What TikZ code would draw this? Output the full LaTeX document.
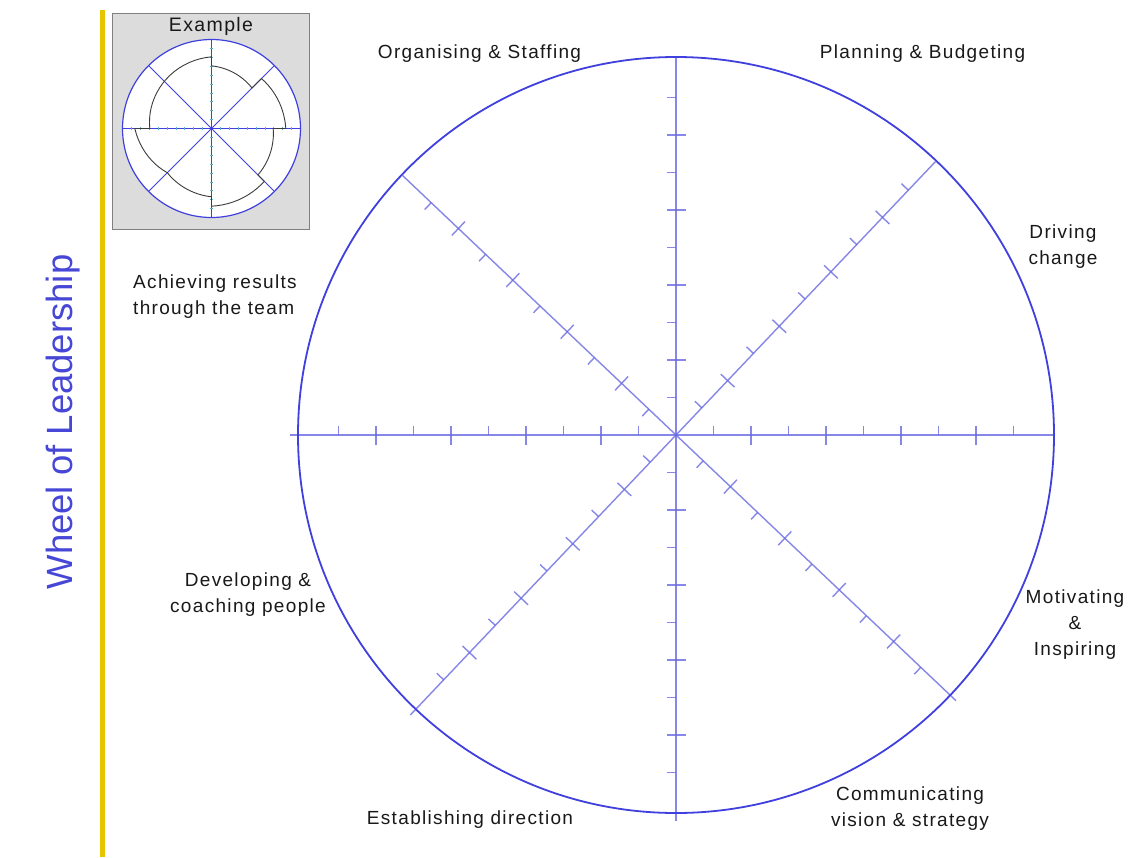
\documentclass[tikz,border=0pt]{standalone}
\usepackage{fontspec}
\setmainfont{Liberation Sans}
\newfontfamily\lblfont{Liberation Sans}[LetterSpace=7]
\definecolor{wheelblue}{RGB}{64,64,222}
\definecolor{spokeblue}{RGB}{105,105,226}
\definecolor{titleblue}{RGB}{70,70,215}
\definecolor{baryellow}{RGB}{230,196,0}
\definecolor{labelgrey}{RGB}{25,25,25}
\definecolor{insetfill}{RGB}{220,220,220}
\definecolor{insetborder}{RGB}{128,128,128}
\definecolor{insettick}{RGB}{90,175,210}
\definecolor{shapegrey}{RGB}{60,60,60}
\begin{document}
\begin{tikzpicture}[x=1pt,y=1pt,
  lbl/.style={text=labelgrey, font=\lblfont\fontsize{19}{26}\selectfont, align=center, anchor=base, inner sep=0pt},
  spoke/.style={draw=spokeblue, draw opacity=0.8, line width=1.4pt},
  rim/.style={draw=wheelblue, line width=1.8pt},
  minispoke/.style={draw=wheelblue, line width=0.8pt},
  minitick/.style={draw=insettick, line width=0.8pt}
]
\useasboundingbox (0,0) rectangle (1135,-857);
\fill[white] (0,0) rectangle (1135,-857);

% yellow bar
\draw[baryellow, line width=5pt] (102.5,-10) -- (102.5,-857);

% title
\node[rotate=90, anchor=base, inner sep=0pt, text=titleblue, font=\fontsize{36.5}{40}\selectfont] (title) at (72,-422) {Wheel of Leadership};

% main wheel
\coordinate (c) at (676,-435);
\foreach \a in {0,46.5,90,136.5}{
  \begin{scope}[shift={(c)}, rotate=\a]
    \draw[spoke] (-386,0) -- (377,0);
    \foreach \k in {-9,-7,-5,-3,-1,1,3,5,7,9}
      \draw[spoke] (\k*37.5,0) -- (\k*37.5,9.5);
    \foreach \k in {-8,-6,-4,-2,2,4,6,8}
      \draw[spoke] (\k*37.5,-9.5) -- (\k*37.5,9.5);
  \end{scope}
}
\draw[rim] (c) circle (378);

% labels (base = baseline of last line)
\node[lbl] (org) at (479.5,-58) {Organising \& Staffing};
\node[lbl] (plan) at (922.5,-58) {Planning \& Budgeting};
\node[lbl] (drive) at (1063,-264) {Driving\\change};
\node[lbl, align=left, anchor=base west] (ach) at (133,-314) {Achieving results\\through the team};
\node[lbl] (dev) at (248,-612) {Developing \&\\coaching people};
\node[lbl] (mot) at (1075,-655) {Motivating\\\&\\Inspiring};
\node[lbl] (comm) at (910,-826) {Communicating\\vision \& strategy};
\node[lbl] (est) at (470,-824) {Establishing direction};

% inset example
\draw[draw=insetborder, line width=1.5pt, fill=insetfill] (112.5,-13.5) rectangle (309.5,-229.5);
\node[lbl, font=\lblfont\fontsize{19.5}{24}\selectfont] (ex) at (211,-31) {Example};
\coordinate (ic) at (211.5,-128.5);
\draw[draw=wheelblue, line width=1.2pt, fill=white] (ic) circle (89);
\begin{scope}[shift={(ic)}]
  \foreach \a in {0,45,90,135}
    \draw[minispoke] (\a:89) -- (\a+180:89);
  \foreach \k in {-9,...,-1,1,2,...,9}{
    \draw[minitick] (\k*8.9,-1.6) -- (\k*8.9,1.6);
    \draw[minitick] (-1.6,\k*8.9) -- (1.6,\k*8.9);
  }
  \draw[shapegrey, line width=0.9pt]
    plot[domain=0:45, samples=12] (\x:{74.3+(70.7-74.3)*\x/45})
    -- plot[domain=45:90, samples=12] (\x:{57.3+(62.7-57.3)*(\x-45)/45})
    -- plot[domain=90:180, samples=20] (\x:{71.7+(61.7-71.7)*(\x-90)/90})
    -- plot[domain=180:225, samples=12] (\x:{76.7+(62.5-76.7)*(\x-180)/45})
    -- plot[domain=225:270, samples=12] (\x:{62.5+(68.3-62.5)*(\x-225)/45})
    -- plot[domain=270:315, samples=12] (\x:{77.7+(74.7-77.7)*(\x-270)/45})
    -- plot[domain=315:360, samples=12] (\x:{65.7+(61.7-65.7)*(\x-315)/45})
    -- cycle;
\end{scope}
\end{tikzpicture}
\end{document}
